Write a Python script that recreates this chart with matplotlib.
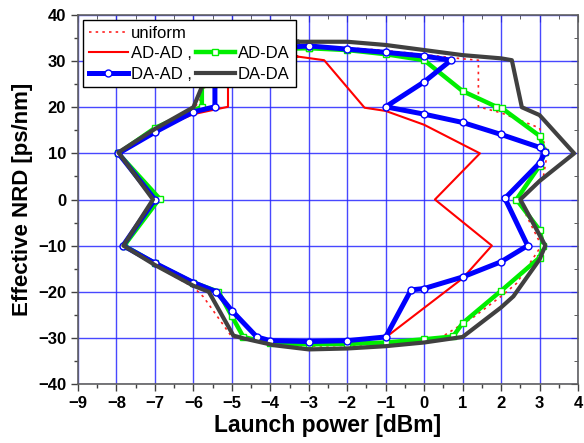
import matplotlib
matplotlib.use("Agg")
import matplotlib.pyplot as plt
from matplotlib.lines import Line2D
from matplotlib.ticker import MultipleLocator

# ---- data (closed contours) ----
uniform_x = [-3.3, -2.0, -1.0, 0.0, 1.0, 1.41, 1.41, 2.0, 3.0, 3.2, 3.1, 2.45, 3.05, 2.4, 2.0, 1.3, 0.4, 0.0,
             -1.0, -2.0, -3.0, -4.0, -5.0, -5.74, -6.0, -7.0, -7.8, -7.0, -7.95, -7.0, -6.0, -5.8, -5.5, -4.5, -3.3]
uniform_y = [33.3, 32.9, 32.3, 31.4, 30.5, 30.2, 20.1, 18.8, 15.5, 10.0, 5.0, 0.0, -10.0, -18.2, -21.0, -25.4, -30.1, -30.9,
             -31.3, -31.6, -31.8, -31.3, -29.8, -21.1, -19.0, -14.3, -10.0, 0.0, 10.0, 15.0, 19.5, 22.0, 30.0, 33.0, 33.3]

adad_x = [-3.3, -2.6, -1.55, -1.0, 0.0, 1.45, 0.28, 1.76, 1.0, -0.97, -2.0, -3.0, -4.0, -4.35, -5.0, -5.4, -6.0,
          -7.0, -7.8, -6.9, -7.95, -7.0, -6.0, -5.1, -5.1, -4.8, -4.0, -3.3]
adad_y = [31.0, 30.2, 19.9, 19.2, 16.2, 10.0, 0.0, -10.0, -17.1, -29.7, -30.6, -30.8, -30.6, -29.8, -24.5, -20.0, -18.0,
          -14.0, -10.0, 0.0, 10.0, 15.0, 18.5, 20.1, 26.0, 30.0, 31.0, 31.0]

adda_x = [-3.0, -2.0, -1.0, 0.0, 1.0, 1.88, 2.02, 3.0, 3.14, 3.0, 2.4, 3.0, 3.1, 3.0, 2.0, 1.0, 0.75, 0.0, -1.0,
          -2.0, -3.0, -4.0, -4.7, -5.0, -5.35, -6.0, -7.0, -7.8, -6.88, -7.95, -7.0, -5.78, -5.78, -5.5, -4.5, -3.0]
adda_y = [32.8, 32.4, 31.5, 30.2, 23.5, 20.1, 19.8, 13.8, 10.2, 7.3, 0.0, -6.6, -10.0, -12.6, -19.8, -26.8, -29.7, -30.3, -31.0,
          -31.3, -31.4, -31.2, -29.8, -25.3, -20.0, -18.0, -13.8, -10.0, 0.2, 10.0, 15.5, 20.1, 25.0, 30.0, 32.5, 32.8]

daad_x = [-3.0, -2.0, -1.0, 0.0, 0.7, 0.0, -1.0, 0.0, 1.0, 2.0, 3.0, 3.14, 3.0, 2.1, 2.69, 2.0, 1.0, 0.0, -0.34,
          -1.0, -2.0, -3.0, -4.0, -4.35, -5.0, -5.4, -6.0, -7.0, -7.83, -7.0, -7.95, -7.0, -6.0, -5.44, -5.44,
          -5.2, -4.5, -3.0]
daad_y = [33.3, 32.6, 31.9, 31.1, 30.2, 25.5, 20.1, 18.5, 16.7, 14.1, 11.3, 10.2, 7.9, 0.25, -10.0, -13.5, -16.8, -19.3, -19.6,
          -29.8, -30.6, -30.8, -30.6, -29.8, -24.1, -20.0, -18.0, -13.8, -10.0, 0.0, 10.0, 14.6, 19.0, 20.1, 25.0,
          30.0, 32.5, 33.3]

dada_x = [-3.3, -2.0, -1.0, 0.0, 1.0, 2.0, 2.28, 2.54, 3.0, 3.9, 3.0, 2.5, 3.15, 3.0, 2.32, 2.0, 1.0, 0.0, -1.0,
          -2.0, -3.0, -3.9, -4.7, -4.96, -5.6, -6.0, -7.0, -7.82, -7.05, -7.95, -7.0, -6.0, -5.8, -5.5, -4.5, -3.3]
dada_y = [34.2, 34.2, 33.5, 32.4, 31.3, 30.6, 30.2, 20.0, 18.3, 10.0, 4.0, 0.0, -10.0, -13.0, -21.0, -23.4, -29.8, -31.0, -31.8,
          -32.3, -32.5, -31.6, -30.1, -29.5, -20.0, -18.7, -14.2, -10.0, 0.0, 10.2, 15.3, 20.0, 24.0, 30.0, 33.5, 34.2]

x_ticks = [-9, -8, -7, -6, -5, -4, -3, -2, -1, 0, 1, 2, 3, 4]
y_ticks = [-40, -30, -20, -10, 0, 10, 20, 30, 40]

# ---- figure ----
plt.rcParams['font.family'] = ['Liberation Sans', 'DejaVu Sans']
fig = plt.figure(figsize=(5.84, 4.43), dpi=100)
ax = fig.add_axes([78/584, 1-384/443, 500/584, 369/443])

ax.plot(uniform_x, uniform_y, color='#ff2020', lw=1.2, ls=(0, (1.5, 2.5)), zorder=3, label='uniform')
ax.plot(adad_x, adad_y, color='#ff0000', lw=1.5, zorder=4, label='AD-AD ,')
ax.plot(adda_x, adda_y, color='#00ee00', lw=3.2, marker='s', ms=5, mfc='white', mec='#00ee00', mew=1.0,
        zorder=5, label='AD-DA')
ax.plot(daad_x, daad_y, color='#0000ff', lw=3.6, marker='o', ms=5, mfc='white', mec='#0000ff', mew=1.0,
        zorder=6, label='DA-AD ,')
ax.plot(dada_x, dada_y, color='#404040', lw=3.0, zorder=7, label='DA-DA')

ax.set_xlim(-9, 4)
ax.set_ylim(-40, 40)
ax.set_xticks(x_ticks)
ax.set_yticks(y_ticks)
ax.xaxis.set_minor_locator(MultipleLocator(0.5))
ax.yaxis.set_minor_locator(MultipleLocator(5))
ax.grid(True, which='major', color='#2828ff', lw=1.0, alpha=0.85)
ax.set_axisbelow(True)
for s in ax.spines.values():
    s.set_color('#606060')
    s.set_linewidth(1.2)

ax.tick_params(which='major', direction='out', length=5, width=1, labelsize=12, color='#404040')
ax.tick_params(which='minor', direction='out', length=3, width=1, color='#404040')
for lab in ax.get_xticklabels() + ax.get_yticklabels():
    lab.set_fontweight('bold')

secx = ax.secondary_xaxis('top')
secx.set_xticks(x_ticks)
secx.xaxis.set_minor_locator(MultipleLocator(0.5))
secx.tick_params(which='major', direction='in', length=5, labeltop=False, color='#404040')
secx.tick_params(which='minor', direction='in', length=3, color='#404040')
secx.spines['top'].set_visible(False)
secy = ax.secondary_yaxis('right')
secy.set_yticks(y_ticks)
secy.yaxis.set_minor_locator(MultipleLocator(5))
secy.tick_params(which='major', direction='in', length=5, labelright=False, color='#404040')
secy.tick_params(which='minor', direction='in', length=3, color='#404040')
secy.spines['right'].set_visible(False)

ax.set_xlabel('Launch power [dBm]', fontsize=16.5, fontweight='bold', labelpad=2)
ax.set_ylabel('Effective NRD [ps/nm]', fontsize=16, fontweight='bold', labelpad=4)

# legend: column 1 = uniform, AD-AD, DA-AD ; column 2 = blank, AD-DA, DA-DA
h = {l.get_label(): l for l in ax.get_lines()}
blank = Line2D([], [], color='none')
handles = [h['uniform'], h['AD-AD ,'], h['DA-AD ,'], blank, h['AD-DA'], h['DA-DA']]
labels = ['uniform', 'AD-AD ,', 'DA-AD ,', '', 'AD-DA', 'DA-DA']
leg = ax.legend(handles, labels, ncol=2, loc='upper left', bbox_to_anchor=(0.01, 0.987),
                borderaxespad=0, fontsize=12, frameon=True, fancybox=False, edgecolor='black',
                framealpha=1, handlelength=2.35, handletextpad=0.2, columnspacing=0.2,
                labelspacing=0.33, borderpad=0.35)
leg.get_frame().set_linewidth(1.0)
leg.set_zorder(20)

fig.savefig('out.png', dpi=100)
